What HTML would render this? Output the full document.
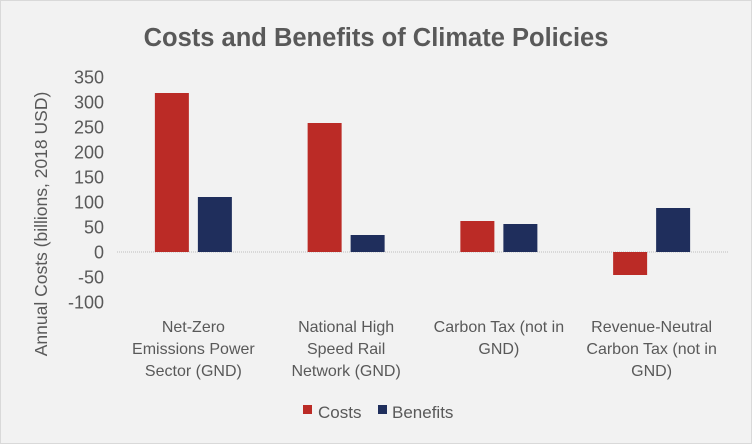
<!DOCTYPE html>
<html><head><meta charset="utf-8"><style>
body{margin:0;background:#f2f2f2;}
svg{display:block;font-family:"Liberation Sans",sans-serif;}
</style></head><body>
<svg width="752" height="444" viewBox="0 0 752 444">
<rect x="0.5" y="0.5" width="751" height="443" fill="#f2f2f2" stroke="#d9d9d9"/>
<text x="376" y="46" text-anchor="middle" font-size="25.5" font-weight="bold" fill="#595959">Costs and Benefits of Climate Policies</text>
<text transform="translate(47,224) rotate(-90)" text-anchor="middle" font-size="17.5" fill="#595959">Annual Costs (billions, 2018 USD)</text>
<g id="yticks"></g>
<line id="zero" x1="117" x2="728" stroke="#bfbfbf" stroke-dasharray="1,1"/>
<g id="bars"></g>
<g id="xlabels"></g>
<g>
<rect x="303" y="405" width="9" height="9" fill="#bb2b26"/>
<text x="318" y="418" font-size="17" fill="#595959">Costs</text>
<rect x="378" y="405" width="9" height="9" fill="#1f2e5c"/>
<text x="392" y="418" font-size="17" fill="#595959">Benefits</text>
</g>
</svg>
<script>
const categories=[["Net-Zero","Emissions Power","Sector (GND)"],["National High","Speed Rail","Network (GND)"],["Carbon Tax (not in","GND)"],["Revenue-Neutral","Carbon Tax (not in","GND)"]];
const costs=[318,258,62,-46];
const benefits=[110,34,56,88];
const yTicks=[350,300,250,200,150,100,50,0,-50,-100];
const NS="http://www.w3.org/2000/svg";
const x0=117,x1=728,bw=34,gap=9;
function y(v){return 252-v*0.5;}
function cx(i){return x0+(x1-x0)/categories.length*(i+0.5);}
function mk(t,a,p){const e=document.createElementNS(NS,t);for(const k in a)e.setAttribute(k,a[k]);p.appendChild(e);return e;}
document.getElementById('zero').setAttribute('y1',y(0));
document.getElementById('zero').setAttribute('y2',y(0));
const yt=document.getElementById('yticks');
yTicks.forEach(v=>{const t=mk('text',{x:104,y:y(v)+6.5,'text-anchor':'end','font-size':'18',fill:'#595959'},yt);t.textContent=v;

});
const bg=document.getElementById('bars');
categories.forEach((c,i)=>{
 const c1=costs[i],b1=benefits[i];
 const r1=mk('rect',{x:cx(i)-gap/2-bw,y:Math.min(y(c1),y(0)),width:bw,height:Math.abs(y(c1)-y(0)),fill:'#bb2b26'},bg);
 
 
 const r2=mk('rect',{x:cx(i)+gap/2,y:Math.min(y(b1),y(0)),width:bw,height:Math.abs(y(b1)-y(0)),fill:'#1f2e5c'},bg);
 
 
 const xl=document.getElementById('xlabels');
 c.forEach((line,j)=>{const t=mk('text',{x:cx(i),y:332+j*22,'text-anchor':'middle','font-size':'16',fill:'#595959'},xl);t.textContent=line;
 
 });
});
</script>
</body></html>
